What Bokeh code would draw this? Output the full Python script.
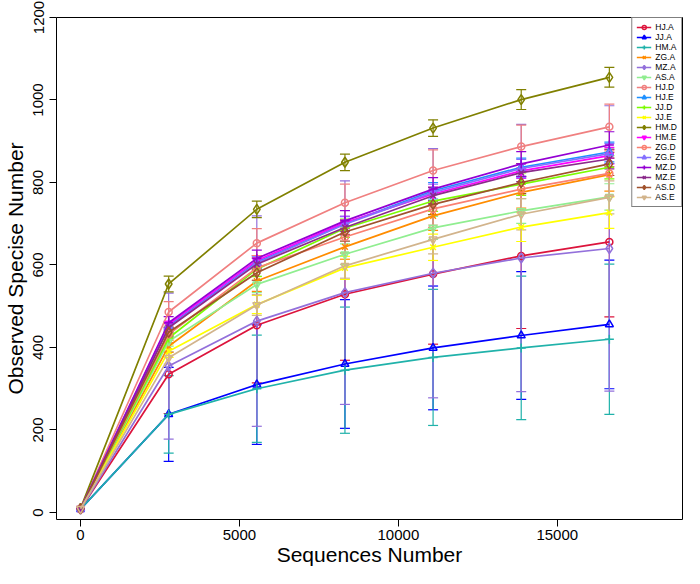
import math
from bokeh.plotting import figure
from bokeh.models import (ColumnDataSource, Whisker, TeeHead, Legend, LegendItem,
                          Range1d, FixedTicker)
from bokeh.embed import file_html
from bokeh.resources import INLINE

# ---------------- data ----------------
seqs = [0, 2773, 5546, 8319, 11092, 13865, 16638]

names = ["HJ.A", "JJ.A", "HM.A", "ZG.A", "MZ.A", "AS.A",
         "HJ.D", "HJ.E", "JJ.D", "JJ.E", "HM.D", "HM.E",
         "ZG.D", "ZG.E", "MZ.D", "MZ.E", "AS.D", "AS.E"]

HJ_A = [8, 335, 454, 529, 578, 622, 656]
JJ_A = [8, 238, 310, 360, 399, 429, 456]
HM_A = [8, 238, 300, 345, 376, 399, 420]
ZG_A = [9, 403, 561, 644, 719, 776, 819]
MZ_A = [8, 355, 464, 533, 580, 617, 640]
AS_A = [9, 415, 553, 626, 690, 731, 765]
HJ_D = [9, 486, 653, 751, 829, 887, 935]
HJ_E = [9, 452, 607, 700, 780, 837, 874]
JJ_D = [9, 423, 590, 689, 755, 796, 837]
JJ_E = [9, 391, 504, 593, 643, 692, 727]
HM_D = [10, 554, 735, 849, 932, 1001, 1055]
HM_E = [9, 456, 611, 703, 772, 828, 865]
ZG_D = [9, 432, 593, 668, 736, 784, 822]
ZG_E = [9, 450, 605, 699, 776, 834, 870]
MZ_D = [9, 460, 616, 707, 784, 845, 891]
MZ_E = [9, 448, 602, 691, 768, 824, 857]
AS_D = [9, 437, 581, 680, 747, 800, 845]
AS_E = [9, 375, 503, 598, 662, 723, 764]

HJ_A_sd = [0, 95, 140, 160, 170, 176, 182]
JJ_A_sd = [0, 114, 145, 156, 150, 155, 156]
HM_A_sd = [0, 94, 130, 153, 165, 174, 182]
ZG_A_sd = [0, 15, 25, 30, 35, 38, 40]
MZ_A_sd = [0, 177, 255, 271, 302, 324, 346]
AS_A_sd = [0, 12, 20, 25, 28, 30, 32]
HJ_D_sd = [0, 25, 35, 45, 50, 52, 55]
HJ_E_sd = [0, 10, 15, 18, 20, 22, 24]
JJ_D_sd = [0, 12, 18, 22, 25, 27, 28]
JJ_E_sd = [0, 15, 22, 28, 32, 35, 38]
HM_D_sd = [0, 19, 20, 20, 20, 24, 24]
HM_E_sd = [0, 8, 12, 15, 17, 18, 20]
ZG_D_sd = [0, 20, 30, 38, 45, 50, 55]
ZG_E_sd = [0, 10, 15, 18, 20, 22, 24]
MZ_D_sd = [0, 15, 20, 25, 28, 30, 32]
MZ_E_sd = [0, 10, 14, 18, 20, 22, 24]
AS_D_sd = [0, 12, 18, 22, 25, 27, 28]
AS_E_sd = [0, 15, 25, 30, 35, 38, 40]

values = [HJ_A, JJ_A, HM_A, ZG_A, MZ_A, AS_A, HJ_D, HJ_E, JJ_D, JJ_E,
          HM_D, HM_E, ZG_D, ZG_E, MZ_D, MZ_E, AS_D, AS_E]
sds = [HJ_A_sd, JJ_A_sd, HM_A_sd, ZG_A_sd, MZ_A_sd, AS_A_sd, HJ_D_sd, HJ_E_sd,
       JJ_D_sd, JJ_E_sd, HM_D_sd, HM_E_sd, ZG_D_sd, ZG_E_sd, MZ_D_sd, MZ_E_sd,
       AS_D_sd, AS_E_sd]

x_ticks = [0, 5000, 10000, 15000]
y_ticks = [0, 200, 400, 600, 800, 1000, 1200]

# ---------------- styles ----------------
colors = ["#DC143C", "#0000FF", "#20B2AA", "#FF8C00", "#9370DB", "#90EE90",
          "#F08080", "#1E90FF", "#7CFC00", "#FFFF00", "#808000", "#FF00FF",
          "#FA8072", "#8470FF", "#9400D3", "#8B2A8B", "#A0522D", "#D2B48C"]
markers = ["circle", "triangle", "cross", "x", "diamond", "inverted_triangle"] * 3
msizes = {"circle": 7, "triangle": 8, "cross": 9, "x": 8, "diamond": 10,
          "inverted_triangle": 8}

FONT = "Liberation Sans"

p = figure(width=684, height=568, output_backend="svg", toolbar_location=None,
           x_range=Range1d(-756, 18939), y_range=Range1d(-17, 1200),
           min_border_left=10, min_border_right=2, min_border_top=17,
           min_border_bottom=10)
p.background_fill_color = "white"
p.border_fill_color = "white"
p.grid.visible = False
p.outline_line_color = "black"
p.outline_line_width = 1

for ax in (p.xaxis[0], p.yaxis[0]):
    ax.axis_line_color = None
    ax.major_tick_line_color = "black"
    ax.major_tick_out = 7
    ax.major_tick_in = 0
    ax.minor_tick_line_color = None
    ax.major_label_text_font = FONT
    ax.major_label_text_font_size = "15px"
    ax.major_label_text_color = "black"
    ax.axis_label_text_font = FONT
    ax.axis_label_text_font_size = "21px"
    ax.axis_label_text_font_style = "normal"
    ax.axis_label_text_color = "black"

p.xaxis.ticker = FixedTicker(ticks=x_ticks)
p.yaxis.ticker = FixedTicker(ticks=y_ticks)
p.xaxis.axis_label = "Sequences Number"
p.yaxis.axis_label = "Observed Specise Number"
p.yaxis.major_label_orientation = "parallel"
p.xaxis.major_label_standoff = 3
p.yaxis.major_label_standoff = 6
p.xaxis.axis_label_standoff = 0
p.yaxis.axis_label_standoff = 4

items = []
for name, vals, sd, col, mk in zip(names, values, sds, colors, markers):
    src = ColumnDataSource(dict(x=seqs, y=vals))
    lr = p.line("x", "y", source=src, line_color=col, line_width=1.7)
    sr = p.scatter("x", "y", source=src, marker=mk, size=msizes[mk],
                   fill_color=None, line_color=col, line_width=1.5)
    ex = [xv for xv, s in zip(seqs, sd) if s > 0]
    up = [v + s for v, s in zip(vals, sd) if s > 0]
    lo = [v - s for v, s in zip(vals, sd) if s > 0]
    wsrc = ColumnDataSource(dict(x=ex, upper=up, lower=lo))
    w = Whisker(source=wsrc, base="x", upper="upper", lower="lower",
                dimension="height", line_color=col, line_width=1.2,
                upper_head=TeeHead(size=10, line_color=col, line_width=1.2),
                lower_head=TeeHead(size=10, line_color=col, line_width=1.2))
    p.add_layout(w)
    items.append(LegendItem(label=name, renderers=[lr, sr]))

legend = Legend(items=items, location="top_right", margin=0, padding=4,
                spacing=0, glyph_width=15, glyph_height=10, label_height=10,
                label_standoff=4, label_text_font=FONT,
                label_text_font_size="8.5px", label_text_color="black",
                border_line_color="black", border_line_width=1,
                background_fill_color="white", background_fill_alpha=1)
p.add_layout(legend)

open("out.html", "w").write(file_html(p, INLINE))
